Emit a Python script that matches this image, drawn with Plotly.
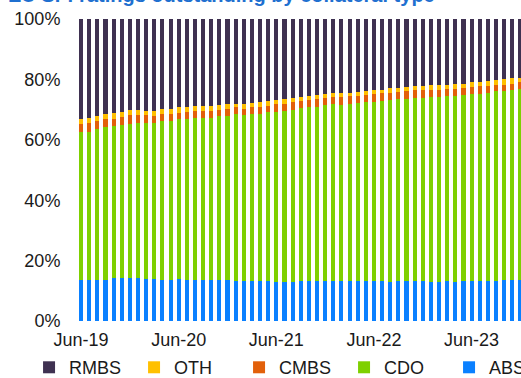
import pandas as pd
import plotly.graph_objects as go

start_month = "2019-06-01"
n_months = 55
months = pd.date_range(start_month, periods=n_months, freq="MS").strftime("%b-%y").tolist()
tick_labels = ["Jun-19", "Jun-20", "Jun-21", "Jun-22", "Jun-23"]
y_ticks = [0, 20, 40, 60, 80, 100]
y_tick_text = ["0%", "20%", "40%", "60%", "80%", "100%"]

abs_share = [13.7, 13.7, 13.7, 13.7, 14.3, 14.3, 14.3, 14.1, 14.0, 14.0,
             13.7, 13.7, 14.0, 13.7, 13.6, 13.6, 13.6, 13.7, 13.7, 13.3,
             13.3, 13.1, 13.1, 13.1, 12.8, 12.8, 12.8, 13.1, 13.3, 13.1,
             13.1, 13.1, 13.1, 13.1, 13.1, 13.1, 13.1, 13.1, 12.8, 13.1,
             13.1, 13.1, 13.1, 12.8, 12.8, 13.1, 12.8, 13.1, 13.1, 13.1,
             13.1, 13.3, 13.7, 13.7, 13.7]
cdo_share = [49.0, 49.0, 49.8, 50.5, 50.3, 50.6, 51.0, 51.5, 51.6, 51.7,
             52.5, 52.5, 52.9, 53.2, 53.7, 53.7, 53.7, 54.1, 54.2, 55.2,
             54.9, 55.4, 55.6, 56.0, 56.5, 56.9, 57.2, 57.4, 57.5, 57.9,
             58.4, 58.8, 58.4, 58.8, 59.0, 59.4, 59.5, 59.8, 60.4, 60.4,
             60.4, 60.9, 60.9, 61.4, 61.5, 61.3, 61.7, 61.8, 62.1, 62.2,
             62.4, 62.8, 62.6, 62.8, 63.2]
cmbs_share = [2.4, 2.7, 2.7, 2.6, 2.4, 2.8, 2.8, 2.5, 2.5, 2.3,
              2.4, 2.5, 2.1, 2.4, 2.4, 2.4, 2.4, 2.1, 2.2, 2.2,
              2.1, 2.2, 2.3, 2.2, 2.4, 2.2, 2.4, 2.4, 2.5, 2.4,
              2.5, 2.3, 2.7, 2.5, 2.5, 2.4, 2.6, 2.5, 2.4, 2.3,
              2.8, 2.4, 2.6, 2.4, 2.3, 2.5, 2.4, 2.3, 2.3, 2.5,
              2.4, 2.2, 2.0, 2.1, 2.1]
oth_share = [1.8, 1.8, 1.7, 1.8, 1.9, 1.6, 1.7, 1.7, 1.6, 1.7,
             1.5, 1.6, 1.7, 1.6, 1.5, 1.5, 1.5, 1.6, 1.6, 1.3,
             1.6, 1.4, 1.5, 1.6, 1.5, 1.5, 1.6, 1.3, 1.2, 1.4,
             1.2, 1.2, 1.2, 1.1, 1.2, 1.3, 1.2, 1.2, 1.4, 1.4,
             1.2, 1.5, 1.3, 1.4, 1.5, 1.4, 1.5, 1.4, 1.5, 1.4,
             1.5, 1.6, 1.7, 1.7, 1.6]
rmbs_share = [33.1, 32.8, 32.1, 31.4, 31.1, 30.7, 30.2, 30.2, 30.3, 30.3,
              29.9, 29.7, 29.3, 29.1, 28.8, 28.8, 28.8, 28.5, 28.3, 28.0,
              28.1, 27.9, 27.5, 27.1, 26.8, 26.6, 26.0, 25.8, 25.5, 25.2,
              24.8, 24.6, 24.6, 24.5, 24.2, 23.8, 23.6, 23.4, 23.0, 22.8,
              22.5, 22.1, 22.1, 22.0, 21.9, 21.7, 21.6, 21.4, 21.0, 20.8,
              20.6, 20.1, 20.0, 19.7, 19.4]

series = [
    ("ABS", abs_share, "#0A80FF"),
    ("CDO", cdo_share, "#7ED000"),
    ("CMBS", cmbs_share, "#E2600A"),
    ("OTH", oth_share, "#FFC000"),
    ("RMBS", rmbs_share, "#3F3151"),
]

fig = go.Figure()
for name, vals, color in series:
    fig.add_trace(go.Bar(x=months, y=vals, name=name, marker=dict(color=color, line=dict(width=0))))

font_family = "Liberation Sans, Arial, sans-serif"
fig.update_layout(
    width=521, height=378,
    margin=dict(l=77, r=0, t=19, b=57, autoexpand=False),
    barmode="stack", bargap=0.5,
    plot_bgcolor="white", paper_bgcolor="white",
    font=dict(family=font_family, size=18, color="#1a1a1a"),
    showlegend=True,
    legend=dict(orientation="h", traceorder="reversed", x=-0.108, xanchor="left",
                y=-0.093, yanchor="top", entrywidth=60, entrywidthmode="pixels",
                font=dict(size=18), itemclick=False),
    annotations=[dict(text="<b>EU SF: ratings outstanding by collateral type</b>",
                      xref="paper", yref="paper", x=-0.161, y=1.038,
                      xanchor="left", yanchor="bottom", showarrow=False,
                      font=dict(size=20, color="#1F70D0"))],
)
fig.update_xaxes(type="category", range=[-0.5, 54.07], tickvals=tick_labels, ticktext=tick_labels,
                 showgrid=False, showline=False, zeroline=False, ticks="outside", ticklen=2,
                 tickcolor="rgba(0,0,0,0)", tickangle=0, automargin=False)
fig.update_yaxes(range=[0, 100], tickvals=y_ticks, ticktext=y_tick_text,
                 showgrid=False, showline=False, zeroline=False, ticks="outside", ticklen=12,
                 tickcolor="rgba(0,0,0,0)", automargin=False)
fig.write_html("out.html",
               config={"displayModeBar": False},
               post_script="document.body.style.margin='0';document.body.style.padding='0';"
                           "document.body.style.overflow='hidden';")
